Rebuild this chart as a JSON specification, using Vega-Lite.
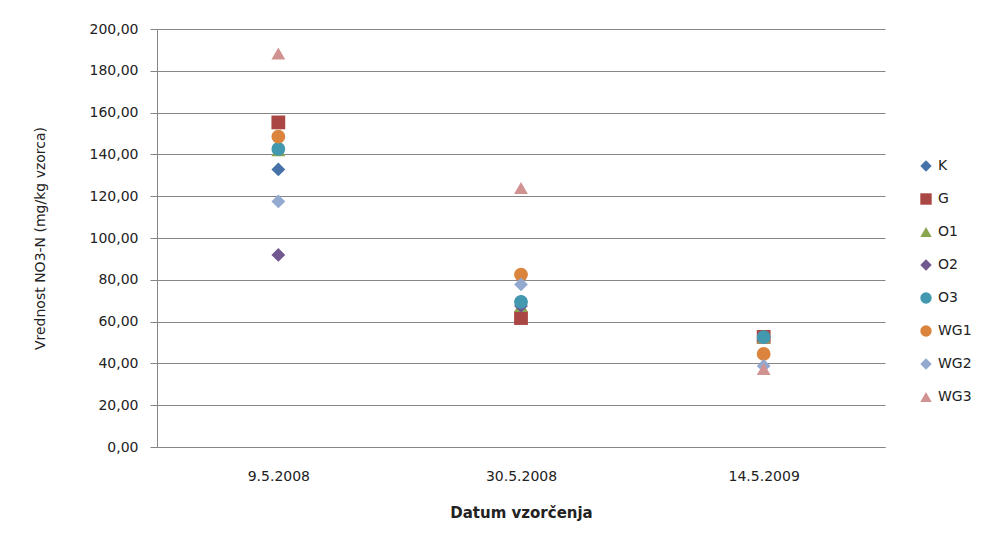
{
  "$schema": "https://vega.github.io/schema/vega-lite/v6.json",
  "autosize": "none",
  "width": 728,
  "height": 418,
  "padding": {"left": 157, "top": 29, "right": 102, "bottom": 88},
  "background": "white",
  "config": {
    "font": "DejaVu Sans",
    "view": {"stroke": null},
    "axis": {"labelFont": "DejaVu Sans", "titleFont": "DejaVu Sans", "labelColor": "#222222", "titleColor": "#222222"}
  },
  "data": {
    "values": [
      {"datum": "9.5.2008", "series": "K", "value": 132.8},
      {"datum": "30.5.2008", "series": "K", "value": 69.6},
      {"datum": "14.5.2009", "series": "K", "value": 52.5},
      {"datum": "9.5.2008", "series": "G", "value": 155.3},
      {"datum": "30.5.2008", "series": "G", "value": 61.7},
      {"datum": "14.5.2009", "series": "G", "value": 52.7},
      {"datum": "9.5.2008", "series": "O1", "value": 142.0},
      {"datum": "30.5.2008", "series": "O1", "value": 67.5},
      {"datum": "14.5.2009", "series": "O1", "value": 52.5},
      {"datum": "9.5.2008", "series": "O2", "value": 91.9},
      {"datum": "30.5.2008", "series": "O2", "value": 67.5},
      {"datum": "14.5.2009", "series": "O2", "value": 52.5},
      {"datum": "9.5.2008", "series": "O3", "value": 142.6},
      {"datum": "30.5.2008", "series": "O3", "value": 69.4},
      {"datum": "14.5.2009", "series": "O3", "value": 52.6},
      {"datum": "9.5.2008", "series": "WG1", "value": 148.5},
      {"datum": "30.5.2008", "series": "WG1", "value": 82.5},
      {"datum": "14.5.2009", "series": "WG1", "value": 44.5},
      {"datum": "9.5.2008", "series": "WG2", "value": 117.5},
      {"datum": "30.5.2008", "series": "WG2", "value": 77.8},
      {"datum": "14.5.2009", "series": "WG2", "value": 38.8},
      {"datum": "9.5.2008", "series": "WG3", "value": 188.3},
      {"datum": "30.5.2008", "series": "WG3", "value": 123.9},
      {"datum": "14.5.2009", "series": "WG3", "value": 37.3}
    ]
  },
  "mark": {"type": "point", "filled": true, "opacity": 1, "size": 190},
  "encoding": {
    "x": {
      "field": "datum",
      "type": "ordinal",
      "sort": ["9.5.2008", "30.5.2008", "14.5.2009"],
      "scale": {"type": "point", "padding": 0.5},
      "axis": {
        "title": "Datum vzorčenja",
        "titleFontSize": 15,
        "titleFontWeight": "bold",
        "titlePadding": 22,
        "labelAngle": 0,
        "labelFontSize": 14,
        "labelPadding": 22,
        "ticks": false,
        "domainColor": "#868686",
        "domainWidth": 1,
        "grid": false
      }
    },
    "y": {
      "field": "value",
      "type": "quantitative",
      "scale": {"domain": [0, 200], "nice": false},
      "axis": {
        "title": "Vrednost NO3-N (mg/kg vzorca)",
        "titleFontSize": 14,
        "titleFontWeight": "normal",
        "titleX": -117,
        "titleY": 209,
        "titleAngle": -90,
        "titleAlign": "center",
        "titleBaseline": "middle",
        "values": [0, 20, 40, 60, 80, 100, 120, 140, 160, 180, 200],
        "labelExpr": "replace(format(datum.value, '.2f'), '.', ',')",
        "labelFontSize": 14,
        "labelPadding": 12,
        "tickSize": 7,
        "tickColor": "#868686",
        "domainColor": "#868686",
        "gridColor": "#868686",
        "gridWidth": 1,
        "grid": true
      }
    },
    "color": {
      "field": "series",
      "type": "nominal",
      "sort": ["K", "G", "O1", "O2", "O3", "WG1", "WG2", "WG3"],
      "scale": {
        "domain": ["K", "G", "O1", "O2", "O3", "WG1", "WG2", "WG3"],
        "range": ["#4572A7", "#AA4643", "#89A54E", "#71588F", "#4198AF", "#DB843D", "#93A9CF", "#D19392"]
      },
      "legend": {
        "title": null,
        "orient": "none",
        "legendX": 762,
        "legendY": 130,
        "labelFontSize": 14,
        "labelColor": "#222222",
        "symbolSize": 130,
        "rowPadding": 19,
        "labelOffset": 5
      }
    },
    "shape": {
      "field": "series",
      "type": "nominal",
      "sort": ["K", "G", "O1", "O2", "O3", "WG1", "WG2", "WG3"],
      "scale": {
        "domain": ["K", "G", "O1", "O2", "O3", "WG1", "WG2", "WG3"],
        "range": ["diamond", "square", "triangle-up", "diamond", "circle", "circle", "diamond", "triangle-up"]
      },
      "legend": {
        "title": null,
        "orient": "none",
        "legendX": 762,
        "legendY": 130,
        "labelFontSize": 14,
        "labelColor": "#222222",
        "symbolSize": 130,
        "rowPadding": 19,
        "labelOffset": 5
      }
    }
  }
}
